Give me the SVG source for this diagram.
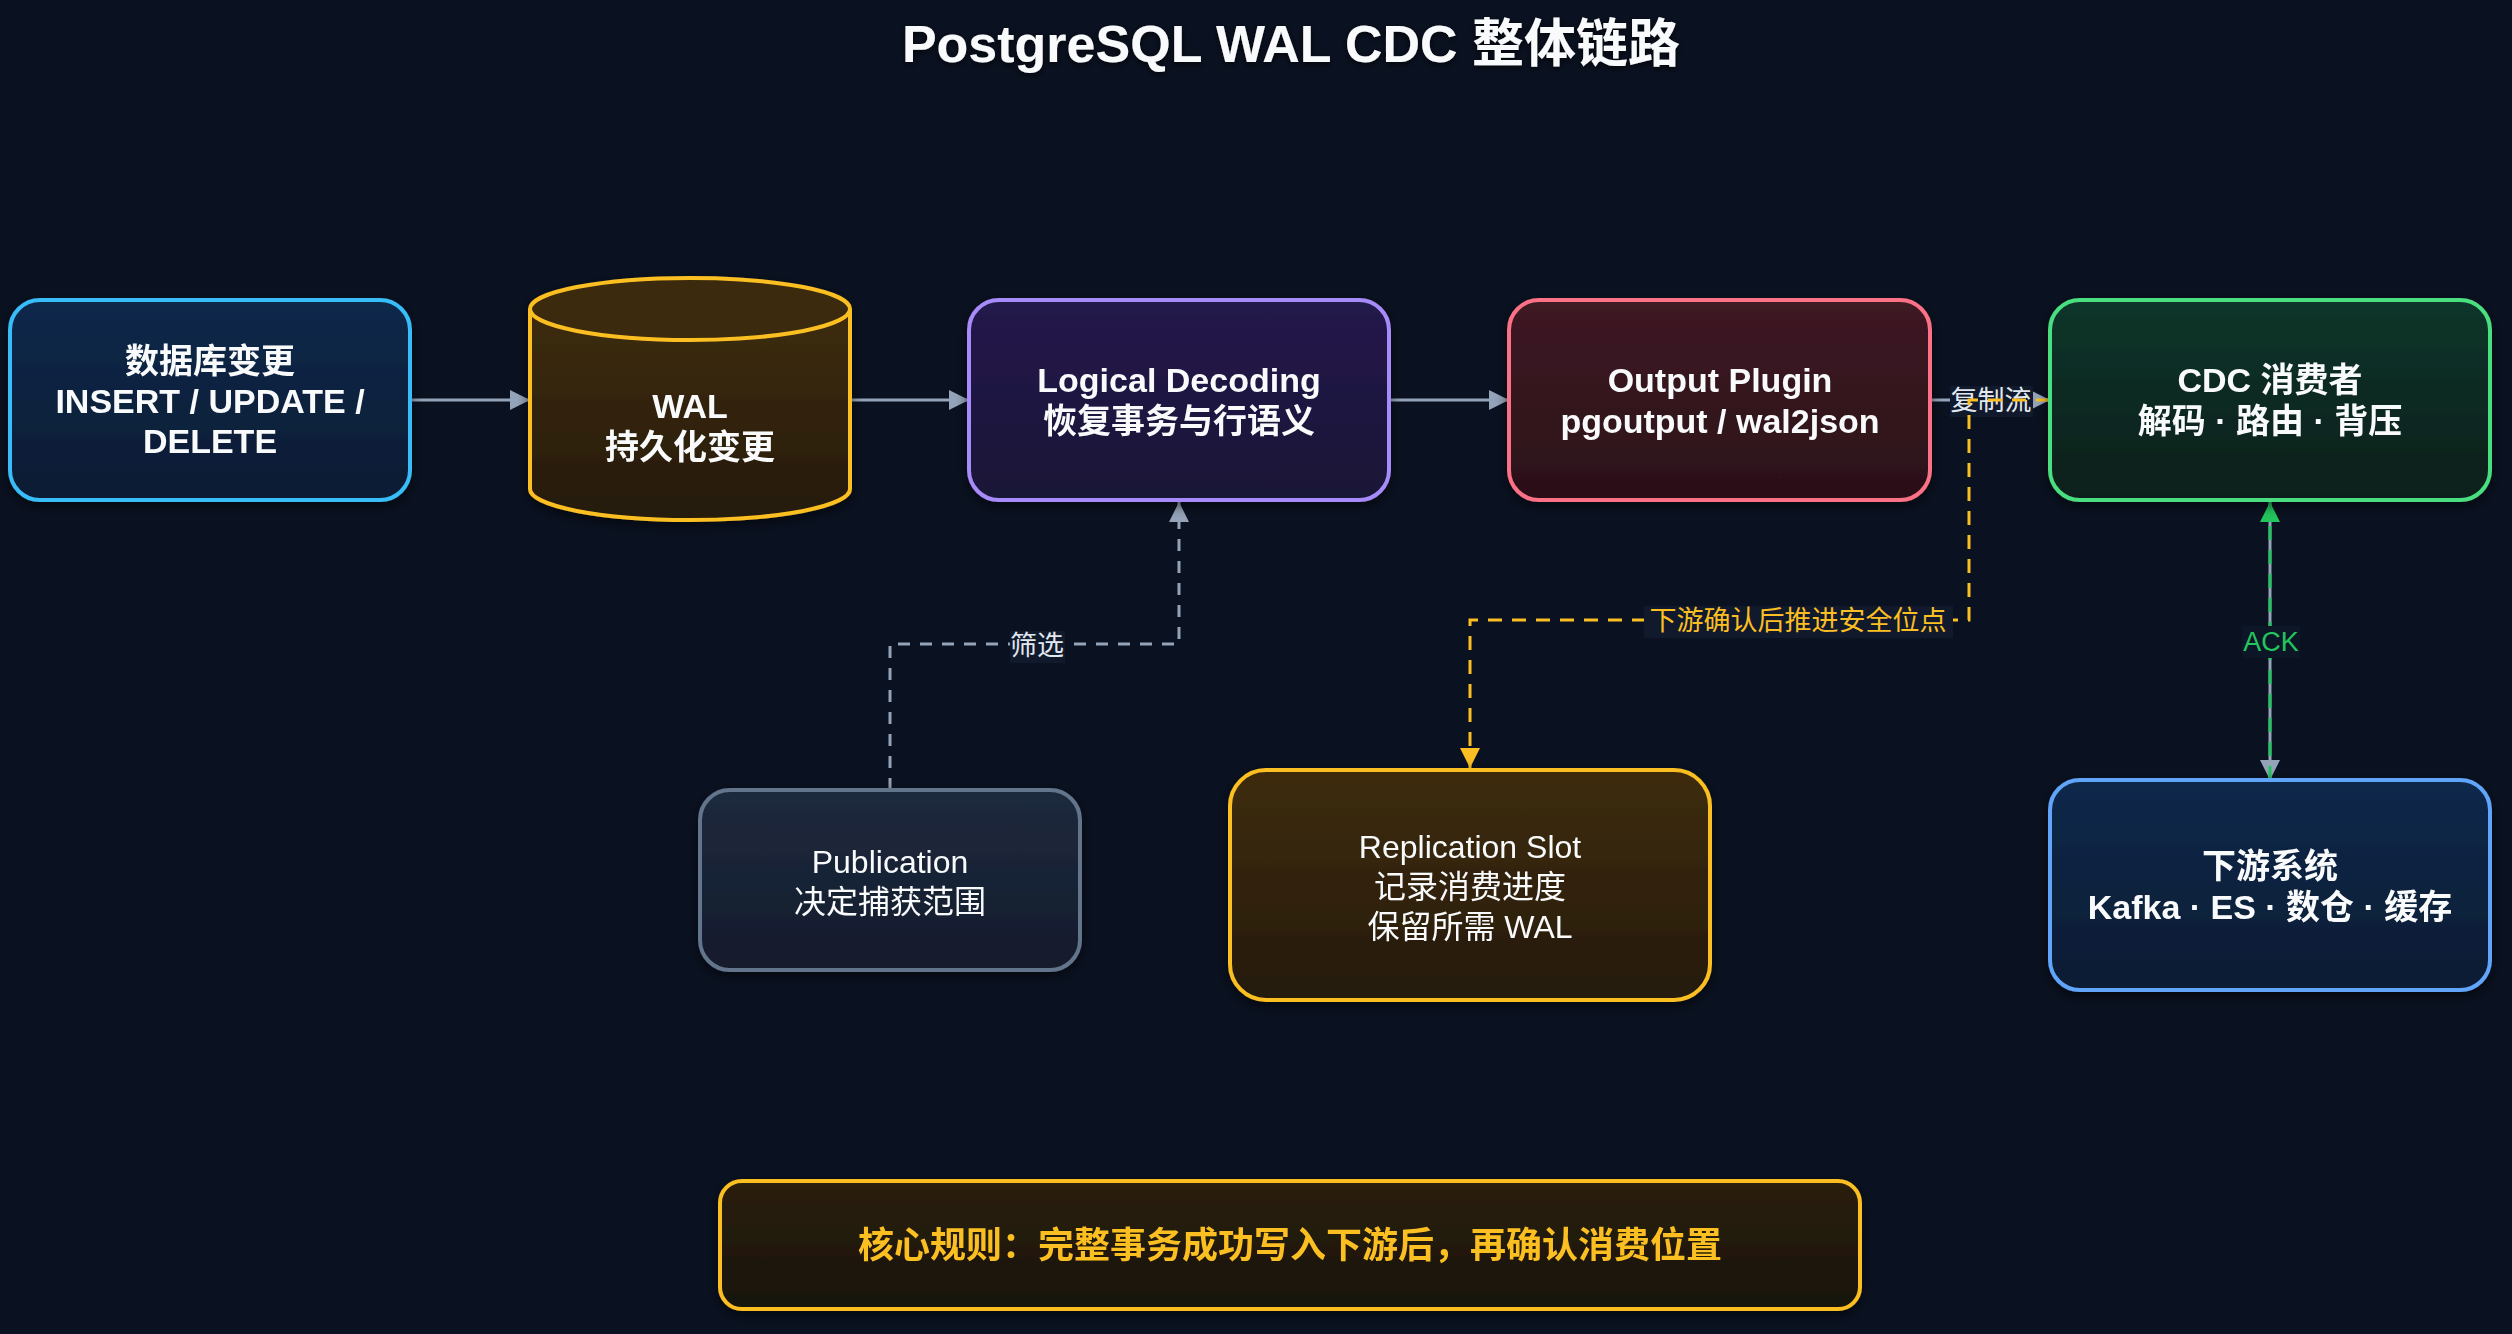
<svg xmlns="http://www.w3.org/2000/svg" width="2512" height="1334" viewBox="0 0 2512 1334">
<defs>
<style>
.t{font-family:"Liberation Sans","Noto Sans CJK SC",sans-serif;fill:#f8fafc;text-anchor:middle}
.b{font-weight:bold;font-size:34px}
.r{font-size:32px}
.lbl{font-family:"Liberation Sans","Noto Sans CJK SC",sans-serif;font-size:27px;text-anchor:middle}
.node{stroke-width:4}
.edge{fill:none;stroke-width:3}
</style>
<filter id="sh" x="-20%" y="-20%" width="140%" height="150%">
<feDropShadow dx="0" dy="4" stdDeviation="6" flood-color="#000000" flood-opacity="0.55"/>
</filter>
<filter id="tsh" x="-5%" y="-30%" width="110%" height="160%">
<feDropShadow dx="0" dy="2" stdDeviation="3" flood-color="#000000" flood-opacity="0.7"/>
</filter>
<linearGradient id="gBlue" x1="0" y1="0" x2="0" y2="1"><stop offset="0" stop-color="#10294a"/><stop offset="1" stop-color="#0b1b33"/></linearGradient>
<linearGradient id="gAmber" x1="0" y1="0" x2="0" y2="1"><stop offset="0" stop-color="#3d2c0b"/><stop offset="1" stop-color="#261a08"/></linearGradient>
<linearGradient id="gPurple" x1="0" y1="0" x2="0" y2="1"><stop offset="0" stop-color="#241a4c"/><stop offset="1" stop-color="#191336"/></linearGradient>
<linearGradient id="gRed" x1="0" y1="0" x2="0" y2="1"><stop offset="0" stop-color="#3e1a24"/><stop offset="1" stop-color="#2a1018"/></linearGradient>
<linearGradient id="gGreen" x1="0" y1="0" x2="0" y2="1"><stop offset="0" stop-color="#10352a"/><stop offset="1" stop-color="#0b1f1b"/></linearGradient>
<linearGradient id="gSlate" x1="0" y1="0" x2="0" y2="1"><stop offset="0" stop-color="#1e2a3d"/><stop offset="1" stop-color="#131b2c"/></linearGradient>
<linearGradient id="gRule" x1="0" y1="0" x2="0" y2="1"><stop offset="0" stop-color="#2c200c"/><stop offset="1" stop-color="#171309"/></linearGradient>
<marker id="mGray" viewBox="0 0 20 20" refX="20" refY="10" markerWidth="20" markerHeight="20" markerUnits="userSpaceOnUse" orient="auto">
<path d="M0,0 L20,10 L0,20 Z" fill="#94a3b8"/>
</marker>
<marker id="mAmber" viewBox="0 0 20 20" refX="20" refY="10" markerWidth="20" markerHeight="20" markerUnits="userSpaceOnUse" orient="auto">
<path d="M0,0 L20,10 L0,20 Z" fill="#fbbf24"/>
</marker>
<marker id="mGreen" viewBox="0 0 20 20" refX="20" refY="10" markerWidth="20" markerHeight="20" markerUnits="userSpaceOnUse" orient="auto">
<path d="M0,0 L20,10 L0,20 Z" fill="#22c55e"/>
</marker>
</defs>
<rect x="0" y="0" width="2512" height="1334" fill="#0a1120"/>
<text x="1291" y="62" class="t" font-weight="bold" font-size="52" filter="url(#tsh)">PostgreSQL WAL CDC 整体链路</text>

<g id="connectors">
<path class="edge" d="M410,400 L530,400" stroke="#94a3b8" marker-end="url(#mGray)"/>
<path class="edge" d="M850,400 L969,400" stroke="#94a3b8" marker-end="url(#mGray)"/>
<path class="edge" d="M1389,400 L1509,400" stroke="#94a3b8" marker-end="url(#mGray)"/>
<path class="edge" d="M1930,400 L2050,400" stroke="#94a3b8" marker-end="url(#mGray)"/>
<rect x="1950" y="386" width="83" height="31" fill="#111a2d"/>
<text x="1991" y="410" class="lbl" fill="#e2e8f0">复制流</text>
<path class="edge" d="M890,790 L890,644 L1179,644 L1179,502" stroke="#94a3b8" stroke-dasharray="12 10" marker-end="url(#mGray)"/>
<rect x="1010" y="631" width="55" height="32" fill="#111a2d"/>
<text x="1037" y="655" class="lbl" fill="#e2e8f0">筛选</text>
<path class="edge" d="M2050,400 L1969,400 L1969,620 L1470,620 L1470,768" stroke="#fbbf24" stroke-dasharray="14 10" marker-end="url(#mAmber)"/>
<rect x="1644" y="606" width="309" height="32" fill="#111a2d"/>
<text x="1798" y="630" class="lbl" fill="#fbbf24">下游确认后推进安全位点</text>
<path class="edge" d="M2270,500 L2270,780" stroke="#94a3b8" marker-end="url(#mGray)"/>
<path class="edge" d="M2270,780 L2270,502" stroke="#22c55e" stroke-dasharray="14 10" marker-end="url(#mGreen)"/>
<rect x="2242" y="626" width="58" height="32" fill="#0d1626"/>
<text x="2271" y="651" class="lbl" fill="#22c55e">ACK</text>
</g>

<g id="n-db" filter="url(#sh)">
<rect class="node" x="10" y="300" width="400" height="200" rx="30" fill="url(#gBlue)" stroke="#38bdf8"/>
<text class="t b" x="210" y="373">数据库变更</text>
<text class="t b" x="210" y="413">INSERT / UPDATE /</text>
<text class="t b" x="210" y="453">DELETE</text>
</g>

<g id="n-wal" filter="url(#sh)">
<path class="node" d="M530,309 L530,489 A160,31 0 0 0 850,489 L850,309" fill="url(#gAmber)" stroke="#fbbf24"/>
<ellipse class="node" cx="690" cy="309" rx="160" ry="31" fill="#3b2a0b" stroke="#fbbf24"/>
<text class="t b" x="690" y="418">WAL</text>
<text class="t b" x="690" y="459">持久化变更</text>
</g>

<g id="n-logical" filter="url(#sh)">
<rect class="node" x="969" y="300" width="420" height="200" rx="30" fill="url(#gPurple)" stroke="#a78bfa"/>
<text class="t b" x="1179" y="392">Logical Decoding</text>
<text class="t b" x="1179" y="433">恢复事务与行语义</text>
</g>

<g id="n-output" filter="url(#sh)">
<rect class="node" x="1509" y="300" width="421" height="200" rx="30" fill="url(#gRed)" stroke="#fb7185"/>
<text class="t b" x="1720" y="392">Output Plugin</text>
<text class="t b" x="1720" y="433">pgoutput / wal2json</text>
</g>

<g id="n-cdc" filter="url(#sh)">
<rect class="node" x="2050" y="300" width="440" height="200" rx="30" fill="url(#gGreen)" stroke="#4ade80"/>
<text class="t b" x="2270" y="392">CDC 消费者</text>
<text class="t b" x="2270" y="433">解码 · 路由 · 背压</text>
</g>

<g id="n-pub" filter="url(#sh)">
<rect class="node" x="700" y="790" width="380" height="180" rx="30" fill="url(#gSlate)" stroke="#64748b"/>
<text class="t r" x="890" y="873">Publication</text>
<text class="t r" x="890" y="913">决定捕获范围</text>
</g>

<g id="n-slot" filter="url(#sh)">
<rect class="node" x="1230" y="770" width="480" height="230" rx="36" fill="url(#gAmber)" stroke="#fbbf24"/>
<text class="t r" x="1470" y="858">Replication Slot</text>
<text class="t r" x="1470" y="898">记录消费进度</text>
<text class="t r" x="1470" y="938">保留所需 WAL</text>
</g>

<g id="n-down" filter="url(#sh)">
<rect class="node" x="2050" y="780" width="440" height="210" rx="30" fill="url(#gBlue)" stroke="#60a5fa"/>
<text class="t b" x="2270" y="878">下游系统</text>
<text class="t b" x="2270" y="919">Kafka · ES · 数仓 · 缓存</text>
</g>

<g id="n-rule" filter="url(#sh)">
<rect class="node" x="720" y="1181" width="1140" height="128" rx="22" fill="url(#gRule)" stroke="#fbbf24"/>
<text class="t" x="1290" y="1258" font-weight="bold" font-size="36" style="fill:#fbbf24">核心规则：完整事务成功写入下游后，再确认消费位置</text>
</g>
</svg>
